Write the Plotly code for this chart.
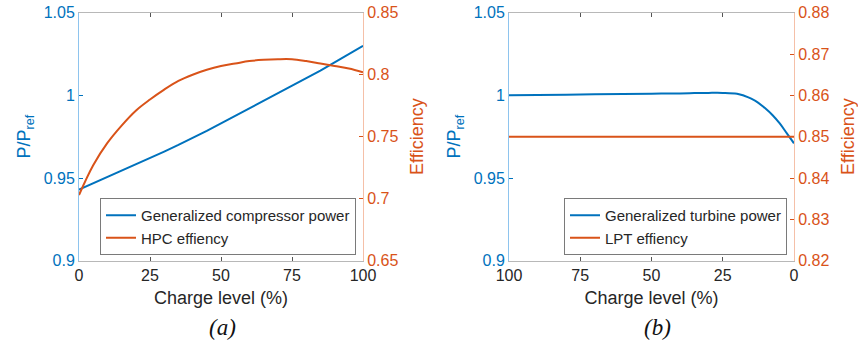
import plotly.graph_objects as go

# ---- data ----
charge_a = [0, 5, 10, 15, 20, 25, 30, 35, 40, 45, 50, 55, 60, 65, 70, 75, 80, 85, 90, 95, 100]
comp_power = [0.943, 0.9468, 0.9505, 0.9542, 0.958, 0.962, 0.966, 0.970, 0.974, 0.9785, 0.983,
              0.9875, 0.992, 0.9965, 1.001, 1.0055, 1.010, 1.015, 1.020, 1.025, 1.030]
hpc_eff = [0.703, 0.727, 0.745, 0.759, 0.771, 0.780, 0.788, 0.795, 0.800, 0.804, 0.807,
           0.809, 0.811, 0.812, 0.8125, 0.8125, 0.811, 0.809, 0.807, 0.805, 0.802]

charge_b = [100, 90, 80, 70, 60, 50, 40, 35, 30, 25, 20, 17.5, 15, 12.5, 10, 7.5, 5, 2.5, 0]
turb_power = [1.000, 1.0002, 1.0004, 1.0006, 1.0008, 1.001, 1.0012, 1.0014, 1.0015, 1.0015, 1.001,
              0.9998, 0.998, 0.9955, 0.992, 0.988, 0.983, 0.977, 0.971]
lpt_eff = [0.85] * len(charge_b)

x_ticks = [0, 25, 50, 75, 100]
p_ticks = [0.9, 0.95, 1.0, 1.05]
p_text = ["0.9", "0.95", "1", "1.05"]
eff_a_ticks = [0.65, 0.7, 0.75, 0.8, 0.85]
eff_a_text = ["0.65", "0.7", "0.75", "0.8", "0.85"]
eff_b_ticks = [0.82, 0.83, 0.84, 0.85, 0.86, 0.87, 0.88]
eff_b_text = ["0.82", "0.83", "0.84", "0.85", "0.86", "0.87", "0.88"]

BLUE = "#0072BD"
ORANGE = "#D95319"
BLUE_LINE = "#8EC4EE"
ORANGE_LINE = "#F5C0A8"
GREY_LINE = "#B8B8B8"
FONT = "Liberation Sans, Arial, sans-serif"

fig = go.Figure()
fig.add_trace(go.Scatter(x=charge_a, y=comp_power, mode="lines", line=dict(color=BLUE, width=2),
                         name="Generalized compressor power", xaxis="x", yaxis="y", legend="legend"))
fig.add_trace(go.Scatter(x=charge_a, y=hpc_eff, mode="lines", line=dict(color=ORANGE, width=2, shape="spline"),
                         name="HPC effiency", xaxis="x", yaxis="y2", legend="legend"))
fig.add_trace(go.Scatter(x=charge_b, y=turb_power, mode="lines", line=dict(color=BLUE, width=2, shape="spline"),
                         name="Generalized turbine power", xaxis="x2", yaxis="y3", legend="legend2"))
fig.add_trace(go.Scatter(x=charge_b, y=lpt_eff, mode="lines", line=dict(color=ORANGE, width=2),
                         name="LPT effiency", xaxis="x2", yaxis="y4", legend="legend2"))

ydom = [1 - 260.7 / 347, 1 - 12.7 / 347]
xdom_a = [79 / 858, 363 / 858]
xdom_b = [509 / 858, 794 / 858]


def xaxis(domain, rng, anchor):
    return dict(domain=domain, range=rng, anchor=anchor, tickvals=x_ticks, automargin=False,
                showline=True, linecolor=GREY_LINE, linewidth=1, mirror="ticks",
                ticks="inside", ticklen=4, tickcolor="#555", showgrid=False, zeroline=False,
                tickfont=dict(family=FONT, size=16, color="#262626"),
                title=dict(text="Charge level (%)", font=dict(family=FONT, size=18, color="#262626"), standoff=8))


def yleft(anchor):
    return dict(domain=ydom, range=[0.9, 1.05], anchor=anchor, tickvals=p_ticks, ticktext=p_text,
                automargin=False,
                showline=True, linecolor=BLUE_LINE, linewidth=1, ticks="inside", ticklen=4,
                tickcolor=BLUE, showgrid=False, zeroline=False,
                tickfont=dict(family=FONT, size=16, color=BLUE),
                title=dict(text="P/P<sub>ref</sub>", font=dict(family=FONT, size=18, color=BLUE), standoff=8))


def yright(anchor, overlay, rng, tv, tt):
    return dict(range=rng, anchor=anchor, overlaying=overlay, side="right", tickvals=tv, ticktext=tt,
                automargin=False,
                showline=True, linecolor=ORANGE_LINE, linewidth=1, ticks="inside", ticklen=4,
                tickcolor=ORANGE, showgrid=False, zeroline=False,
                tickfont=dict(family=FONT, size=16, color=ORANGE),
                title=dict(text="Efficiency", font=dict(family=FONT, size=18, color=ORANGE), standoff=12))


legend_common = dict(bgcolor="white", bordercolor="#7a7a7a", borderwidth=1,
                     font=dict(family=FONT, size=15, color="#262626"),
                     xanchor="right", yanchor="bottom", tracegroupgap=0, itemwidth=30)

SERIF = "Liberation Serif, Times New Roman, serif"

fig.update_layout(
    width=858, height=347, margin=dict(l=0, r=0, t=0, b=0, autoexpand=False),
    paper_bgcolor="white", plot_bgcolor="white",
    xaxis=xaxis(xdom_a, [0, 100], "y"),
    yaxis=yleft("x"),
    yaxis2=yright("x", "y", [0.65, 0.85], eff_a_ticks, eff_a_text),
    xaxis2=xaxis(xdom_b, [100, 0], "y3"),
    yaxis3=yleft("x2"),
    yaxis4=yright("x2", "y3", [0.82, 0.88], eff_b_ticks, eff_b_text),
    legend=dict(x=356 / 858, y=1 - 255 / 347, **legend_common),
    legend2=dict(x=787 / 858, y=1 - 255 / 347, **legend_common),
    showlegend=True,
    annotations=[
        dict(text="<i>(a)</i>", x=222 / 858, y=1 - 327 / 347, xref="paper", yref="paper", showarrow=False,
             font=dict(family=SERIF, size=23, color="#111"), xanchor="center", yanchor="middle"),
        dict(text="<i>(b)</i>", x=657 / 858, y=1 - 327 / 347, xref="paper", yref="paper", showarrow=False,
             font=dict(family=SERIF, size=23, color="#111"), xanchor="center", yanchor="middle"),
    ],
)

fig.write_html("out.html")
